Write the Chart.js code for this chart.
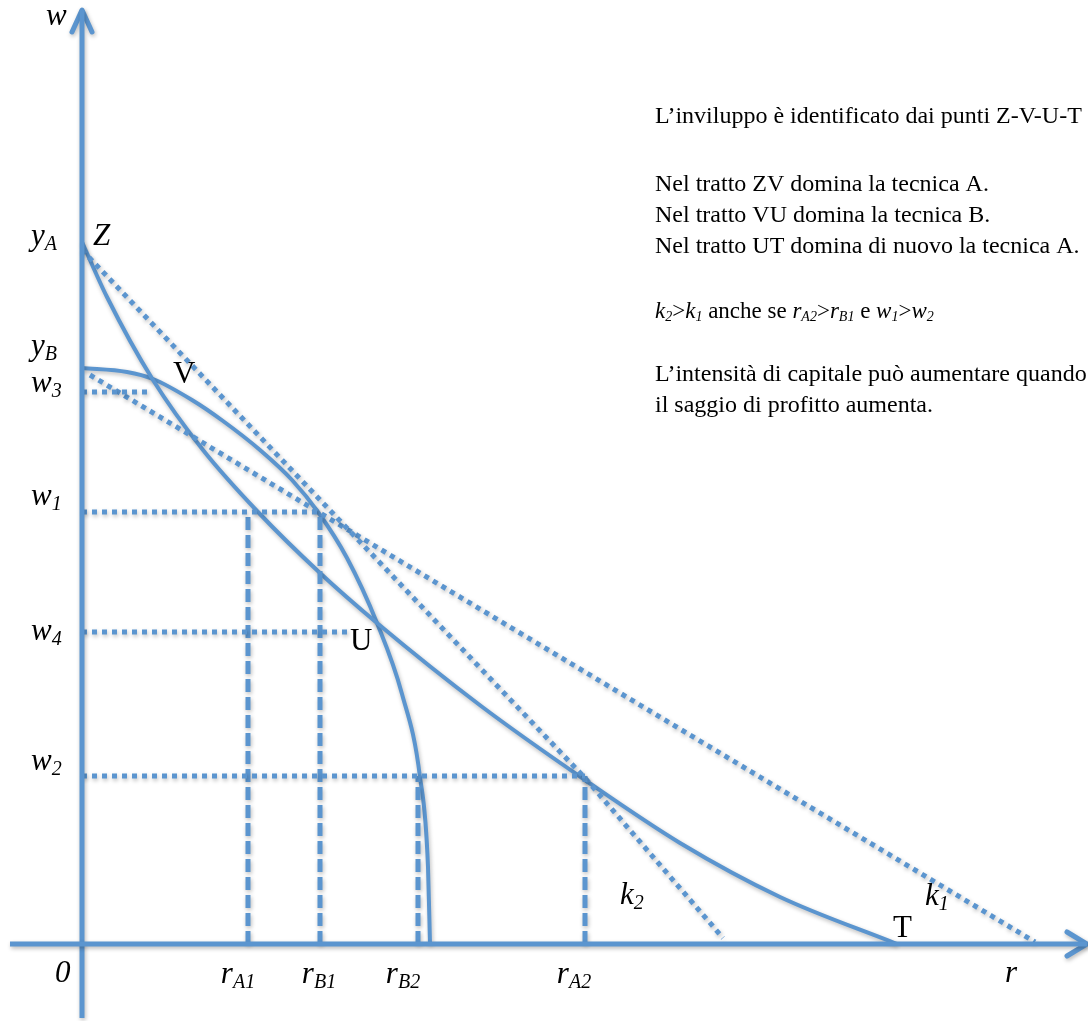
<!DOCTYPE html>
<html>
<head>
<meta charset="utf-8">
<script src="https://cdn.jsdelivr.net/npm/chart.js@4.4.1/dist/chart.umd.min.js"></script>
<style>
  html, body { margin: 0; padding: 0; background: #fff; }
  #wrap { position: relative; width: 1088px; height: 1021px; }
</style>
</head>
<body>
<div id="wrap"><canvas id="chart"></canvas></div>
<script>
// Wage-profit frontiers of two techniques (w on the vertical axis, r on the horizontal)
const techA_r = [0, 2.5, 7.1, 12.1, 17.6, 23.8, 29.5, 39.9, 50.3, 59.8, 69.8, 81.5];
const techA_w = [70.2, 64.7, 56.4, 49.4, 43.2, 37.1, 32.1, 23.8, 16.4, 10.1, 4.7, 0];

const techB_r = [0, 4.5, 7.1, 11.0, 14.1, 17.8, 21.0, 23.6, 26.5, 29.5, 32.0, 33.8, 34.6, 34.8];
const techB_w = [57.6, 57.2, 56.5, 54.4, 52.3, 49.4, 46.4, 43.2, 38.6, 32.1, 25.0, 16.7, 7.7, 0];

// capital intensity lines k2 (from yA) and k1 (from yB)
const k2_r = [0, 50.3, 64.1];
const k2_w = [69.4, 16.6, 0.6];
const k1_r = [0.8, 95.3];
const k1_w = [56.9, 0.2];

// wage levels and how far right their dotted guide runs
const wageNames = ['w3', 'w1', 'w4', 'w2'];
const wageValues = [55.2, 43.2, 31.2, 16.8];
const wageEnds = [6.8, 23.8, 26.5, 50.3];

// profit rates and the wage their dashed guide rises to
const rateNames = ['A1', 'B1', 'B2', 'A2'];
const rateValues = [16.6, 23.8, 33.6, 50.3];
const rateTops = [43.2, 43.2, 16.8, 16.8];

// axes with arrow heads
const axisR = [-7.2, 100.5];
const axisW = [93.4, -7.4];
const arrowR_r = [98.5, 100.5, 98.5];
const arrowR_w = [1.2, 0, -1.2];
const arrowW_r = [-1.0, 0, 1.0];
const arrowW_w = [91.2, 93.4, 91.2];

const BLUE = 'rgb(91, 149, 207)';
const SERIF = '"Liberation Serif", "Times New Roman", serif';

function pts(xs, ys) {
  return xs.map((x, i) => ({ x, y: ys[i] }));
}

function solid(data, width) {
  return {
    data, borderColor: BLUE, borderWidth: width || 4, pointRadius: 0,
    cubicInterpolationMode: 'monotone', borderCapStyle: 'butt',
    borderJoinStyle: 'round', fill: false, clip: false,
  };
}

function dotted(data) {
  return {
    data, borderColor: BLUE, borderWidth: 5, pointRadius: 0,
    borderDash: [5, 5], borderCapStyle: 'butt', fill: false, clip: false,
  };
}

function dashed(data) {
  return {
    data, borderColor: BLUE, borderWidth: 5, pointRadius: 0,
    borderDash: [13, 5], borderCapStyle: 'butt', fill: false, clip: false,
  };
}

const datasets = [
  solid(pts(axisR, [0, 0]), 5),
  solid(pts([0, 0], axisW), 5),
  Object.assign(solid(pts(arrowR_r, arrowR_w), 5), { borderCapStyle: 'round', cubicInterpolationMode: 'default', tension: 0 }),
  Object.assign(solid(pts(arrowW_r, arrowW_w), 5), { borderCapStyle: 'round', cubicInterpolationMode: 'default', tension: 0 }),
];

wageValues.forEach((w, i) => datasets.push(dotted(pts([0, wageEnds[i]], [w, w]))));
rateValues.forEach((r, i) => datasets.push(dashed(pts([r, r], [0, rateTops[i]]))));
datasets.push(dotted(pts(k2_r, k2_w)));
datasets.push(dotted(pts(k1_r, k1_w)));
datasets.push(solid(pts(techA_r, techA_w)));
datasets.push(solid(pts(techB_r, techB_w)));

// soft drop shadow under every stroke
const lineShadow = {
  id: 'lineShadow',
  beforeDatasetsDraw(chart) {
    const c = chart.ctx;
    c.save();
    c.shadowColor = 'rgba(0, 0, 0, 0.28)';
    c.shadowBlur = 4;
    c.shadowOffsetX = 1;
    c.shadowOffsetY = 2;
  },
  afterDatasetsDraw(chart) {
    chart.ctx.restore();
  },
};

// text runs: n = roman, i = italic, s = italic subscript
function drawRich(ctx, parts, x, y, size, align, subRatio) {
  const sub = Math.round(size * (subRatio || 0.64));
  const fontFor = (k) => {
    if (k === 'n') return `${size}px ${SERIF}`;
    if (k === 's') return `italic ${sub}px ${SERIF}`;
    return `italic ${size}px ${SERIF}`;
  };
  const widths = parts.map(([t, k]) => { ctx.font = fontFor(k); return ctx.measureText(t).width; });
  const total = widths.reduce((a, b) => a + b, 0);
  let cx = align === 'center' ? x - total / 2 : x;
  parts.forEach(([t, k], i) => {
    ctx.font = fontFor(k);
    ctx.fillText(t, cx, k === 's' ? y + size * 0.15 : y);
    cx += widths[i];
  });
}

// [runs, baseline, size]
const noteLines = [
  [[['L’inviluppo è identificato dai punti Z-V-U-T', 'n']], 123, 24],
  [[['Nel tratto ZV domina la tecnica A.', 'n']], 191, 24],
  [[['Nel tratto VU domina la tecnica B.', 'n']], 222, 24],
  [[['Nel tratto UT domina di nuovo la tecnica A.', 'n']], 253, 24],
  [[['k', 'i'], ['2', 's'], ['>', 'n'], ['k', 'i'], ['1', 's'], [' anche se ', 'n'],
    ['r', 'i'], ['A2', 's'], ['>', 'n'], ['r', 'i'], ['B1', 's'], [' e ', 'n'],
    ['w', 'i'], ['1', 's'], ['>', 'n'], ['w', 'i'], ['2', 's']], 318, 23],
  [[['L’intensità di capitale può aumentare quando', 'n']], 381, 24],
  [[['il saggio di profitto aumenta.', 'n']], 412, 24],
];

const labels = {
  id: 'labels',
  afterDraw(chart) {
    const ctx = chart.ctx;
    const X = (v) => chart.scales.x.getPixelForValue(v);
    const Y = (v) => chart.scales.y.getPixelForValue(v);
    const L = 31;
    const left = X(0) - 51;
    ctx.save();
    ctx.fillStyle = '#000';
    ctx.textBaseline = 'alphabetic';
    ctx.textAlign = 'left';

    // axis names and origin
    drawRich(ctx, [['w', 'i']], X(0) - 36, Y(axisW[0]) + 15, L, 'left');
    drawRich(ctx, [['r', 'i']], X(92.3), Y(0) + 38, L, 'left');
    drawRich(ctx, [['0', 'i']], X(0) - 27, Y(0) + 38, L, 'left');

    // intercepts
    drawRich(ctx, [['y', 'i'], ['A', 's']], left, Y(techA_w[0]) + 3, L, 'left');
    drawRich(ctx, [['y', 'i'], ['B', 's']], left, Y(techB_w[0]) - 13, L, 'left');

    // wage levels
    const wageDy = [0, -7, 8, -6];
    wageValues.forEach((w, i) => {
      drawRich(ctx, [['w', 'i'], [wageNames[i].slice(1), 's']], left, Y(w) + wageDy[i], L, 'left');
    });

    // profit rates
    const rateDx = [-10, -1, -15, -11];
    rateValues.forEach((r, i) => {
      drawRich(ctx, [['r', 'i'], [rateNames[i], 's']], X(r) + rateDx[i], Y(0) + 39, L, 'center');
    });

    // points of the envelope
    drawRich(ctx, [['Z', 'i']], X(0) + 11, Y(techA_w[0]) + 3, L, 'left');
    drawRich(ctx, [['V', 'n']], X(7.1) + 20, Y(56.4) + 3, L, 'left');
    drawRich(ctx, [['U', 'n']], X(29.5) - 27, Y(32.1) + 27, L, 'left');
    drawRich(ctx, [['T', 'n']], X(81.5) - 4, Y(0) - 7, L, 'left');

    // capital intensity
    drawRich(ctx, [['k', 'i'], ['2', 's']], X(64.1) - 103, Y(0) - 40, L, 'left');
    drawRich(ctx, [['k', 'i'], ['1', 's']], X(95.3) - 110, Y(0) - 39, L, 'left');

    // notes on the right
    noteLines.forEach(([parts, y, size]) => drawRich(ctx, parts, 655, y, size, 'left', 0.62));
    ctx.restore();
  },
};

new Chart(document.getElementById('chart'), {
  type: 'scatter',
  data: { datasets: datasets.map((d) => Object.assign({ showLine: true }, d)) },
  options: {
    responsive: true,
    maintainAspectRatio: false,
    animation: false,
    layout: { padding: 0 },
    plugins: { legend: { display: false }, tooltip: { enabled: false } },
    scales: {
      x: { type: 'linear', min: -8.2, max: 100.6, display: false },
      y: { type: 'linear', min: -7.7, max: 94.4, display: false },
    },
  },
  plugins: [lineShadow, labels],
});
</script>
</body>
</html>
